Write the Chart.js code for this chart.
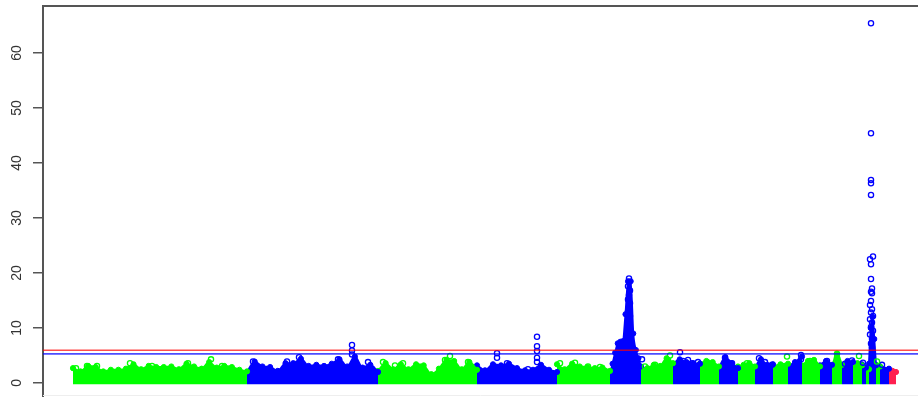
<!DOCTYPE html>
<html><head><meta charset="utf-8">
<script src="https://cdn.jsdelivr.net/npm/chart.js@4/dist/chart.umd.min.js"></script>
<style>html,body{margin:0;padding:0;background:#fff;overflow:hidden}canvas{display:block}</style>
</head><body>
<canvas id="c" width="918" height="397"></canvas>
<script>
// ---- DATA ----
// genome position units; chromosome spans
const chromStart = [30,204,335,434,514,567,598,630,657,676,695,712,730,745,759,777,789,799,810,819,823,826,833,837,846];
const chromEnd   = [204,335,434,514,567,598,630,657,676,695,712,730,745,759,777,789,799,810,819,823,826,833,837,846,853];
// upper envelope of the dense point cloud, evenly sampled across each chromosome (-log10 p)
const chromEnvelope = [
  [2.7,2.1,3.1,2.9,2.1,2.4,2.4,2.6,3.4,2.5,3.1,2.9,2.9,3.0,2.5,3.5,3.0,2.6,3.8,2.8,3.1,2.9,2.4,2.1],
  [2.0,3.9,3.0,2.9,2.2,3.6,3.6,4.4,3.1,3.3,3.1,3.5,4.3,3.0,4.8,2.8,3.3,2.0],
  [2.2,3.6,2.5,3.4,2.5,3.4,3.2,1.6,2.6,4.2,4.0,2.5,3.8,2.4],
  [3.2,2.3,3.4,3.2,3.5,2.7,2.3,2.4,3.3,2.4,2.0],
  [3.4,2.5,3.5,3.0,2.9,2.7,2.8,2.2],
  [1.5,3.5,5.5,7.2,7.5,7.6,12.5,18.5,18.5,9.0,6.0,4.5,3.0],
  [2.8,2.7,3.3,3.1,4.5,3.6],
  [3.4,4.3,3.8,3.6,3.5],
  [3.5,4.0,3.8,3.0],
  [2.8,4.7,3.6,2.7],
  [3.0,3.3,3.6,3.0],
  [2.8,4.3,3.3,3.4],
  [3.0,3.4,3.5],
  [3.0,3.8,4.8],
  [3.2,4.0,4.2,3.0],
  [3.2,4.0,3.3],
  [3.0,5.3,3.3],
  [3.0,4.0,3.8],
  [2.8,3.6,3.2],
  [3.4,2.8],
  [2.7,2.5],
  [3.5,10.0,12.0,8.0,3.2],
  [3.3,3.0],
  [3.0,2.6],
  [2.3,2.2,2.0]
];
// individually visible SNPs (open circles) per chromosome
const hitPos = [
  [33,44,54,87,109,145,168,179],
  [210,244,256,295,309,309,309,325],
  [340,352,360,402,407,425],
  [454,454,464,485,494,494,494,494,494],
  [517,532,545,557],
  [586,586,585,587,586,585,587,586,585,587,586,585,587,586,584,588,599],
  [602,612,625,627],
  [637,640,645,649,655],
  [664],
  [682,689],
  [704],
  [716,722,729],
  [744],
  [758,758],
  [767],
  [784],
  [794,794],
  [802,809],
  [816],
  [820],
  [],
  [828,828,828,828,828,830,827,828,828,829,828,829,828,827,829,828,830,827,829,828,830,827,829,828,829],
  [834],
  [839],
  []
];
const hitVal = [
  [2.7,3.1,3.1,3.6,3.1,3.6,4.3,3.1],
  [3.9,3.9,4.7,4.3,6.9,5.9,5.2,3.8],
  [3.8,3.2,3.6,4.2,4.9,3.8],
  [5.4,4.6,3.6,2.5,8.4,6.7,5.8,4.6,3.8],
  [3.6,3.7,3.0,2.9],
  [19.0,18.3,17.6,16.8,16.0,15.2,14.5,13.7,13.0,12.2,11.3,10.5,9.8,9.0,8.2,7.5,4.3],
  [3.0,3.3,4.2,5.0],
  [5.6,4.0,4.2,3.6,3.8],
  [3.8],
  [4.6,3.6],
  [3.6],
  [4.5,3.8,3.3],
  [4.8],
  [5.1,4.3],
  [4.0],
  [4.0],
  [5.3,4.6],
  [3.5,4.1],
  [4.9],
  [3.7],
  [],
  [65.4,45.4,36.9,36.3,34.2,23.0,22.5,21.6,18.9,17.2,16.6,16.3,14.9,14.2,13.4,12.8,12.2,11.6,11.0,10.2,9.5,8.8,8.0,7.2,6.5],
  [3.9],
  [3.3],
  []
];
const thresholdRed = 5.95;
const thresholdBlue = 5.3;
const yTicks = [0,10,20,30,40,50,60];

// ---- STYLE / SCALES ----
const X_MIN = 0, X_MAX = 875, Y_MIN = -2.55, Y_MAX = 68.55, BASE = -0.25;
const GREEN = '#00ff00', BLUE = '#0000ff', RED = '#ff1f4f';
function colorOf(i){ return i === chromStart.length - 1 ? RED : (i % 2 === 0 ? GREEN : BLUE); }

const datasets = [];
datasets.push({data:[{x:X_MIN,y:thresholdRed},{x:X_MAX,y:thresholdRed}], borderColor:'rgba(255,0,0,0.7)', borderWidth:1.6, pointRadius:0, fill:false, order:0});
datasets.push({data:[{x:X_MIN,y:thresholdBlue},{x:X_MAX,y:thresholdBlue}], borderColor:'rgba(0,0,255,0.7)', borderWidth:1.6, pointRadius:0, fill:false, order:0});
chromEnvelope.forEach((env, i) => {
  const c = colorOf(i), s = chromStart[i], e = chromEnd[i], n = env.length;
  const pts = env.map((v, k) => ({x: s + (n > 1 ? k * (e - s) / (n - 1) : 0), y: v}));
  datasets.push({data: pts, borderColor: c, backgroundColor: c, borderWidth: 2, fill: {value: BASE},
    cubicInterpolationMode: 'monotone', pointRadius: 2.6, pointBackgroundColor: c, pointBorderColor: c, pointBorderWidth: 1, order: 3});
  if (hitPos[i].length) {
    datasets.push({data: hitPos[i].map((p, k) => ({x: p, y: hitVal[i][k]})), showLine: false, fill: false,
      pointRadius: 2.6, pointBorderWidth: 1.3, pointBorderColor: c, pointBackgroundColor: 'rgba(0,0,0,0)', borderColor: c, order: 2});
  }
});

const framePlugin = {
  id: 'frame',
  afterDraw(chart){
    const {ctx, chartArea: a, scales: {y}} = chart;
    ctx.save();
    ctx.strokeStyle = '#eeeeee'; ctx.lineWidth = 1;
    ctx.beginPath(); ctx.moveTo(a.left, a.bottom - 1.5); ctx.lineTo(a.right, a.bottom - 1.5); ctx.stroke();
    ctx.strokeStyle = '#555'; ctx.lineWidth = 2;
    ctx.beginPath(); ctx.moveTo(a.left - 1, a.top); ctx.lineTo(a.right, a.top); ctx.stroke();
    ctx.fillStyle = '#333'; ctx.font = '14px "Liberation Sans", Arial, sans-serif';
    ctx.textAlign = 'center'; ctx.textBaseline = 'middle';
    y.ticks.forEach(t => {
      const py = y.getPixelForValue(t.value);
      ctx.save(); ctx.translate(17, py); ctx.rotate(-Math.PI / 2); ctx.fillText(String(t.value), 0, 0); ctx.restore();
    });
    ctx.restore();
  }
};

new Chart(document.getElementById('c'), {
  type: 'line',
  data: {datasets},
  options: {
    responsive: false, animation: false, parsing: true,
    layout: {autoPadding: false, padding: {top: 6, left: 0, right: 0, bottom: 0}},
    plugins: {legend: {display: false}, tooltip: {enabled: false}},
    scales: {
      x: {type: 'linear', min: X_MIN, max: X_MAX, display: false},
      y: {type: 'linear', min: Y_MIN, max: Y_MAX,
        afterBuildTicks: s => { s.ticks = yTicks.map(v => ({value: v})); },
        afterFit: s => { s.width = 43; },
        ticks: {display: false},
        grid: {drawOnChartArea: false, drawTicks: true, tickLength: 10, color: '#555', lineWidth: 1.5},
        border: {display: true, color: '#555', width: 2}
      }
    }
  },
  plugins: [framePlugin]
});
</script>
</body></html>
